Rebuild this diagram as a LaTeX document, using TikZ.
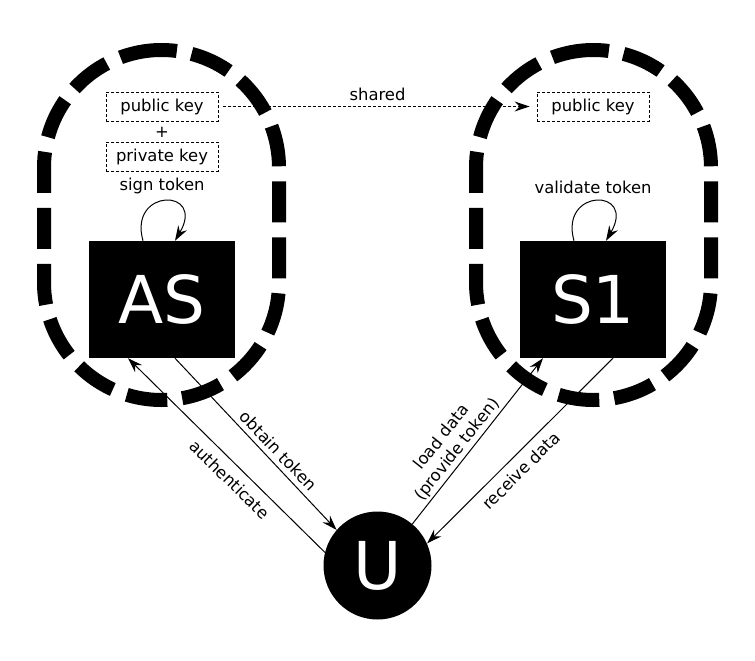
\documentclass[tikz,border=0pt]{standalone}
\usepackage{fontspec}
\setmainfont{DejaVu Sans}
\usetikzlibrary{arrows.meta}
\begin{document}
\begin{tikzpicture}[x=1pt,y=-1pt,
  font=\fontsize{16.4}{19.7}\selectfont,
  group/.style={draw, line width=14pt, dash pattern=on 41pt off 15pt},
  keybox/.style={draw, line width=0.8pt, dash pattern=on 3pt off 2pt, minimum width=112pt, minimum height=29pt, inner sep=0pt},
  server/.style={fill=black, text=white, minimum width=146pt, minimum height=117pt, inner sep=0pt, font=\fontsize{66}{66}\selectfont},
  user/.style={circle, fill=black, text=white, minimum size=108pt, inner sep=0pt, font=\fontsize{66}{66}\selectfont},
  plain/.style={inner sep=2pt},
  conn/.style={line width=1pt, -{Stealth[length=15pt,width=10pt,inset=5pt]}},
  lbl/.style={sloped, inner sep=2pt},
]
\useasboundingbox (0,0) rectangle (755,661);
% groups (dashed containers)
\draw[group] (136.07,52.78) arc[start angle=-102.5, end angle=0, radius=117.5]
  -- (279,282.5) arc[start angle=0, end angle=180, radius=117.5]
  -- (44,167.5) arc[start angle=180, end angle=257.5, radius=117.5] -- cycle;
\draw[group] (568.07,52.78) arc[start angle=-102.5, end angle=0, radius=117.5]
  -- (711,282.5) arc[start angle=0, end angle=180, radius=117.5]
  -- (476,167.5) arc[start angle=180, end angle=257.5, radius=117.5] -- cycle;
% servers and user
\node[server] (AS) at (162,299.5) {AS};
\node[server] (S1) at (593,299.5) {S1};
\node[user] (U) at (377.5,565.5) {U};
% keys
\node[keybox] (pkA) at (162,106.5) {public key};
\node[plain] (plus) at (162,132) {+};
\node[keybox] (skA) at (162,156.5) {private key};
\node[keybox] (pkS) at (593,106.5) {public key};
\node[plain] (signlbl) at (162,186) {sign token};
\node[plain] (vallbl) at (593,187) {validate token};
% shared
\draw[conn, dash pattern=on 3pt off 2pt, shorten <=5pt, shorten >=7pt] (pkA) -- node[above=3pt, plain] (sharedlbl) {shared} (pkS);
% loops
\draw[conn] ([xshift=-19pt]AS.north) .. controls +(-15,-53) and +(31,-53) .. ([xshift=13pt]AS.north);
\draw[conn] ([xshift=-19pt]S1.north) .. controls +(-15,-53) and +(31,-53) .. ([xshift=13pt]S1.north);
% flows
\draw[conn] (U.166.8) -- node[lbl, pos=0.43, below=6pt] {authenticate} ([xshift=-34pt]AS.south);
\draw[conn] ([xshift=13pt]AS.south) -- node[lbl, pos=0.586, above=3pt] {obtain token} (U.139);
\draw[conn] (U.50) -- node[lbl, pos=0.41, above=0pt, align=center] {load data\\(provide token)} ([xshift=-50pt]S1.south);
\draw[conn] ([xshift=20pt]S1.south) -- node[lbl, pos=0.55, below=6pt] {receive data} (U.24);
\end{tikzpicture}
\end{document}
